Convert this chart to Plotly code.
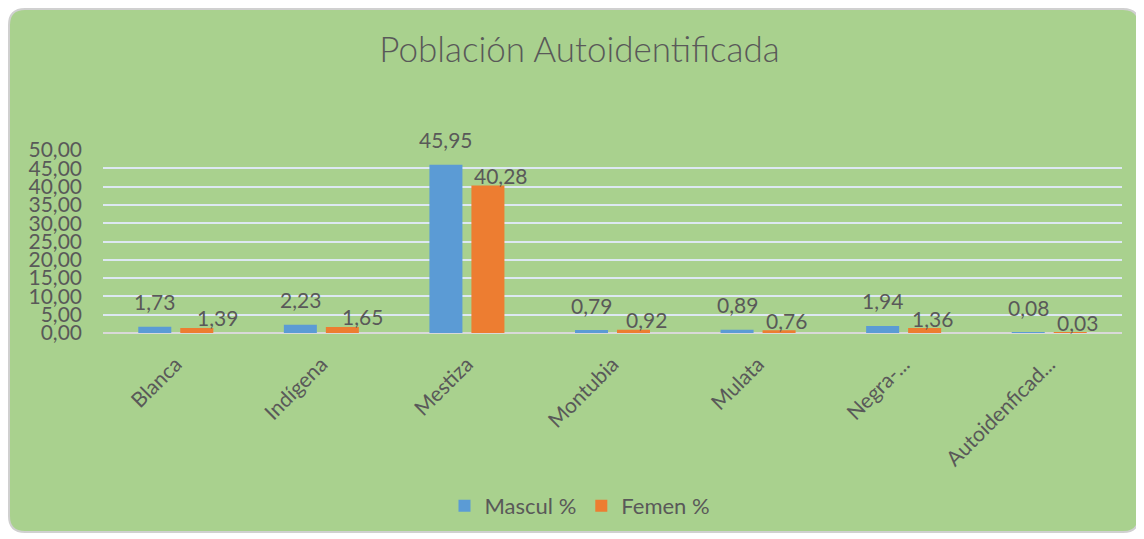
import plotly.graph_objects as go

categories = ["Blanca", "Indígena", "Mestiza", "Montubia", "Mulata", "Negra-...", "Autoidenficad..."]
mascul = [1.73, 2.23, 45.95, 0.79, 0.89, 1.94, 0.08]
femen = [1.39, 1.65, 40.28, 0.92, 0.76, 1.36, 0.03]
series_names = ["Mascul %", "Femen %"]
title_text = "Población Autoidentificada"

# label placement tweaks (style only, pixels)
femen_label_dx = [21, 20, 13, 13, 7, 8, 7]

# the page body has an 8px margin, so the figure is drawn 8px in from the window corner
OFF = 8
W, H = 1144 - OFF, 539 - OFF
L, R, T, B = 103 - OFF, 22, 150 - OFF, 206
PW, PH = W - L - R, H - T - B


def px_to_paper(px, py):
    """window pixel -> paper coords"""
    px, py = px - OFF, py - OFF
    return (px - L) / PW, (H - B - py) / PH


FONT = "Lato"
TXT = "#595959"
BLUE = "#5B9BD5"
ORANGE = "#ED7D31"
GREEN = "#A9D18E"

fig = go.Figure()
fig.add_trace(go.Bar(x=categories, y=mascul, name=series_names[0], marker=dict(color=BLUE, line=dict(width=0))))
fig.add_trace(go.Bar(x=categories, y=femen, name=series_names[1], marker=dict(color=ORANGE, line=dict(width=0))))


def fmt(v):
    return f"{v:.2f}".replace(".", ",")


annotations = []
for c, v in zip(categories, mascul):
    annotations.append(dict(x=c, y=v, xref="x", yref="y", text=fmt(v), showarrow=False,
                            xshift=-21, yshift=25, yanchor="middle",
                            font=dict(family=FONT, size=21, color=TXT)))
for c, v, dx in zip(categories, femen, femen_label_dx):
    annotations.append(dict(x=c, y=v, xref="x", yref="y", text=fmt(v), showarrow=False,
                            xshift=21 + dx, yshift=10, yanchor="middle",
                            font=dict(family=FONT, size=21, color=TXT)))

# rounded chart-area background
x0, y0 = px_to_paper(9, 9)
x1, y1 = px_to_paper(1139, 532)
rx = 16 / PW
ry = 16 / PH
path = (f"M {x0+rx},{y0} L {x1-rx},{y0} Q {x1},{y0} {x1},{y0-ry} "
        f"L {x1},{y1+ry} Q {x1},{y1} {x1-rx},{y1} "
        f"L {x0+rx},{y1} Q {x0},{y1} {x0},{y1+ry} "
        f"L {x0},{y0-ry} Q {x0},{y0} {x0+rx},{y0} Z")

fig.update_layout(
    width=W, height=H,
    margin=dict(l=L, r=R, t=T, b=B),
    paper_bgcolor="white",
    plot_bgcolor="rgba(0,0,0,0)",
    separators=",.",
    barmode="group",
    bargap=0.423,
    bargroupgap=0.214,
    title=dict(text=title_text, x=(579.5 - OFF) / W, xref="container", xanchor="center",
               y=1 - (50 - OFF) / H, yref="container", yanchor="middle",
               font=dict(family=FONT, size=35, color=TXT, weight=300)),
    font=dict(family=FONT, size=20, color=TXT),
    xaxis=dict(tickangle=-45, showgrid=False, showline=False, ticks="",
               ticklabelstandoff=14,
               tickfont=dict(family=FONT, size=21, color=TXT)),
    yaxis=dict(range=[0, 50], dtick=5, tickformat=".2f", showgrid=True,
               gridcolor="#DDE8F2", gridwidth=1.5, zeroline=True, zerolinecolor="#D9D9D9",
               zerolinewidth=2, showline=False, ticks="", ticklabelstandoff=20,
               tickfont=dict(family=FONT, size=21, color=TXT)),
    legend=dict(orientation="h", x=px_to_paper(580, 0)[0], xanchor="center",
                y=px_to_paper(0, 506)[1], yanchor="middle",
                font=dict(family=FONT, size=22, color=TXT), bgcolor="rgba(0,0,0,0)"),
    shapes=[dict(type="path", path=path, xref="paper", yref="paper", layer="below",
                 fillcolor=GREEN, line=dict(color="#D0D0D0", width=2))],
    annotations=annotations,
)

fig.write_html("out.html")
